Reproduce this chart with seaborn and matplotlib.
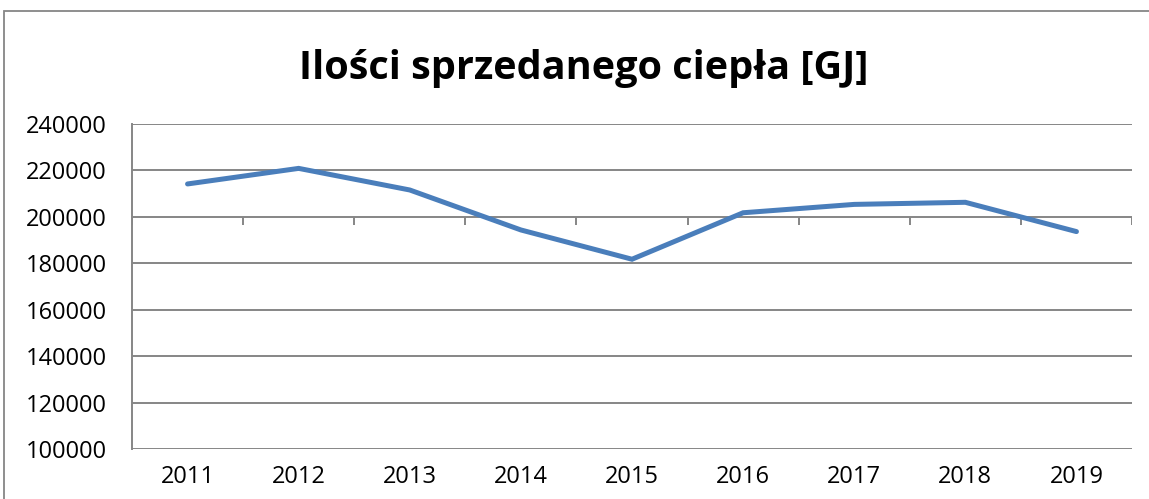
import numpy as np
import matplotlib
matplotlib.use("Agg")
import matplotlib.pyplot as plt
import seaborn as sns
from matplotlib.patches import Rectangle

# === DATA ===
years = ["2011", "2012", "2013", "2014", "2015", "2016", "2017", "2018", "2019"]
heat_gj = [214200, 220900, 211600, 194400, 181800, 201800, 205400, 206300, 193700]
y_ticks = [100000, 120000, 140000, 160000, 180000, 200000, 220000, 240000]

# === STYLE ===
GRID = "#868686"
LINE = "#4A7EBB"

sns.set_style("white")
plt.rcParams["font.family"] = ["Open Sans", "DejaVu Sans"]
plt.rcParams["text.color"] = "black"

fig = plt.figure(figsize=(11.49, 4.99), dpi=100)
ax = fig.add_axes([132 / 1149, 1 - 449.3 / 499, 1000 / 1149, 325.3 / 499])

# outer chart frame (Excel-like), running off the right/bottom edges
fig.patches.append(Rectangle((4 / 1149, -0.1), 1.2, 1 - 11.5 / 499 + 0.1,
                             transform=fig.transFigure, fill=False,
                             edgecolor=GRID, linewidth=1.3, zorder=0))

x = np.arange(len(years))
sns.lineplot(x=x, y=heat_gj, ax=ax, color=LINE, linewidth=3.6,
             solid_capstyle="round", solid_joinstyle="miter")

ax.set_xlim(-0.5, len(years) - 0.5)
ax.set_ylim(y_ticks[0], y_ticks[-1])
ax.set_yticks(y_ticks)
ax.set_yticklabels([str(v) for v in y_ticks])
ax.set_xticks(x)
ax.set_xticklabels(years)

ax.yaxis.grid(True, color=GRID, linewidth=1.4)
ax.xaxis.grid(False)
ax.set_axisbelow(True)

for side in ["top", "right", "bottom"]:
    ax.spines[side].set_visible(False)
ax.spines["left"].set_color(GRID)
ax.spines["left"].set_linewidth(1.4)

ax.tick_params(axis="y", direction="out", length=6, width=1.4, color=GRID,
               labelsize=17, pad=12, labelcolor="black")
ax.tick_params(axis="x", length=0, labelsize=17, pad=11, labelcolor="black")

# horizontal axis crossing at 200000, with tick marks between categories
ax.vlines(np.arange(-0.5, len(years)), 200000 - 3500, 200000,
          color=GRID, linewidth=1.4, zorder=1)

fig.text(584 / 1149, 1 - 68 / 499, "Ilości sprzedanego ciepła [GJ]",
         ha="center", va="center", fontsize=28.5, fontweight="bold",
         color="black")

fig.savefig("out.png", dpi=100)
